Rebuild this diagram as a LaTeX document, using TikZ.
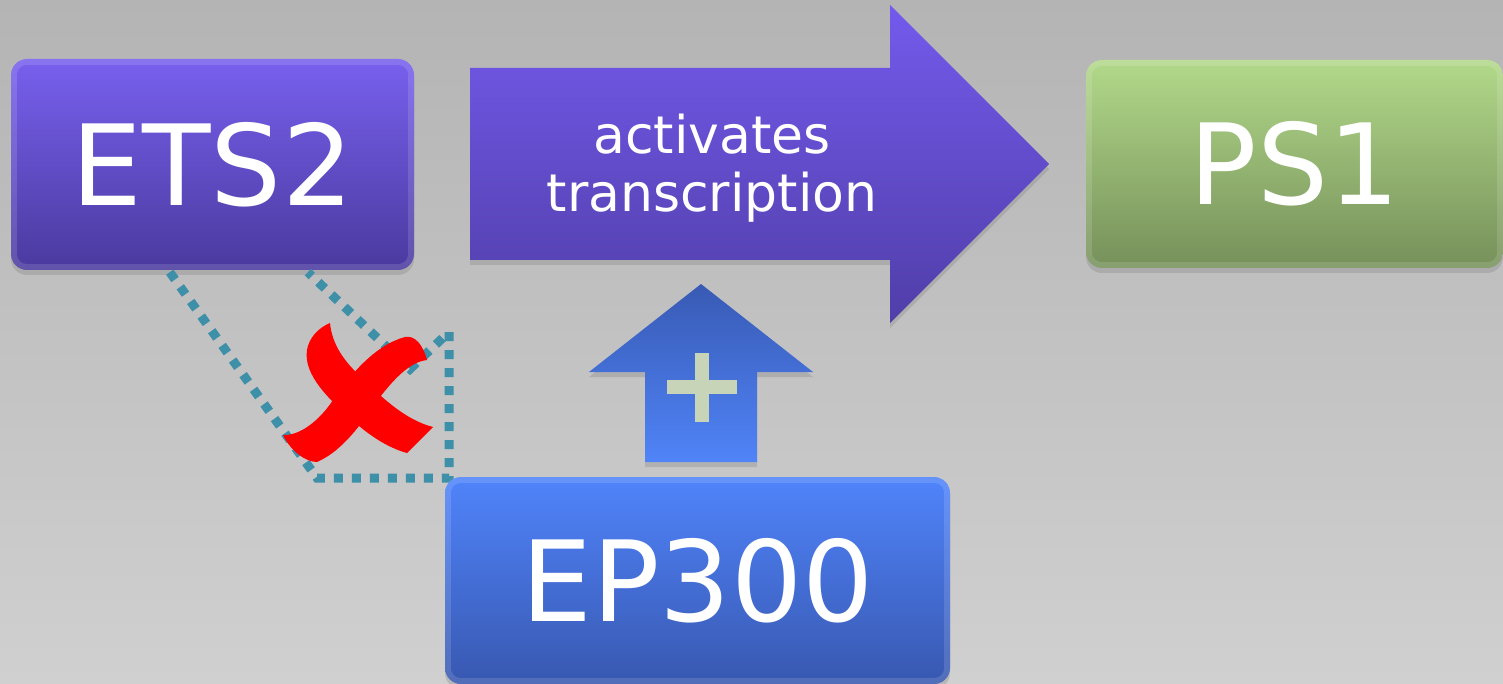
\documentclass[tikz,border=0pt]{standalone}
\usepackage{fontspec}
\setmainfont{DejaVu Sans}
\usetikzlibrary{shadows,calc}
\definecolor{bgtop}{RGB}{180,180,180}
\definecolor{bgbot}{RGB}{208,208,208}
\definecolor{etstop}{RGB}{120,96,238}
\definecolor{etsbot}{RGB}{74,58,158}
\definecolor{arrtop}{RGB}{116,90,236}
\definecolor{arrbot}{RGB}{80,62,168}
\definecolor{pstop}{RGB}{178,217,138}
\definecolor{psbot}{RGB}{118,144,90}
\definecolor{eptop}{RGB}{80,132,251}
\definecolor{epbot}{RGB}{56,88,176}
\definecolor{uptop}{RGB}{56,90,180}
\definecolor{upbot}{RGB}{80,132,248}
\definecolor{plusc}{RGB}{200,212,184}
\definecolor{dotc}{RGB}{62,143,168}
\definecolor{xred}{RGB}{255,0,0}
\tikzset{
  bigbox/.style={rounded corners=16pt, text=white, inner sep=0pt,
    font=\fontsize{112}{130}\selectfont,
    drop shadow={opacity=0.3, shadow xshift=0pt, shadow yshift=-5pt}},
  shapeshadow/.style={drop shadow={opacity=0.3, shadow xshift=0pt, shadow yshift=-5pt}},
  bevel/.style={draw=white, opacity=0.13, line width=6pt, rounded corners=13pt},
  dotline/.style={draw=dotc, line width=9pt, dash pattern=on 9pt off 9pt, line cap=butt},
  midtext/.style={text=white, align=center, font=\fontsize{52}{58}\selectfont}
}
\begin{document}
\begin{tikzpicture}[x=1pt,y=-1pt]
\useasboundingbox (0,0) rectangle (1503,684);
\shade[top color=bgtop, bottom color=bgbot] (0,0) rectangle (1503,684);

% ETS2 and the crossed dotted connector
\node[bigbox, top color=etstop, bottom color=etsbot, minimum width=403pt, minimum height=211pt] (ets2) at (212.5,164.5) {ETS2};
\draw[bevel] ([shift={(3,3)}]ets2.north west) rectangle ([shift={(-3,-3)}]ets2.south east);
\coordinate (d1) at ($(ets2.south west)+(159,2)$);
\coordinate (d2) at ($(ets2.south west)+(297,2)$);
\coordinate (c1) at (317,478);
\coordinate (c2) at (449,478);
\coordinate (c3) at (449,332);
\coordinate (c4) at (410,369);
\draw[dotline] (d1) -- (c1) -- (c2) -- (c3) -- (c4) -- (d2);

% big arrow
\shade[top color=arrtop, bottom color=arrbot, shapeshadow]
  (470,68) -- (890,68) -- (890,5) -- (1049,164) -- (890,323) -- (890,260) -- (470,260) -- cycle;
\node[midtext] (act) at (712,168) {activates\\transcription};

% PS1
\node[bigbox, top color=pstop, bottom color=psbot, minimum width=417pt, minimum height=208pt] (ps1) at (1294.5,164) {PS1};
\draw[bevel] ([shift={(3,3)}]ps1.north west) rectangle ([shift={(-3,-3)}]ps1.south east);

% up arrow with plus
\shade[top color=uptop, bottom color=upbot, shapeshadow]
  (701,284) -- (813,372) -- (757,372) -- (757,462) -- (645,462) -- (645,372) -- (589,372) -- cycle;
\fill[plusc] (667,380) rectangle (737,394);
\fill[plusc] (695,353) rectangle (709,422);

% EP300
\node[bigbox, top color=eptop, bottom color=epbot, minimum width=505pt, minimum height=207pt] (ep300) at (697.5,580.5) {EP300};
\draw[bevel] ([shift={(3,3)}]ep300.north west) rectangle ([shift={(-3,-3)}]ep300.south east);

% red X
\fill[xred] (330,323) .. controls (332,345) and (345,362) .. (360,376)
  .. controls (380,396) and (405,420) .. (433,427) -- (407,453)
  .. controls (385,447) and (365,432) .. (350,418)
  .. controls (330,400) and (303,375) .. (307,350)
  .. controls (309,338) and (318,328) .. (330,323) -- cycle;
\fill[xred] (283,435) .. controls (300,436) and (320,420) .. (333,400)
  .. controls (350,375) and (375,345) .. (405,337)
  .. controls (415,335) and (423,345) .. (427,360)
  .. controls (410,362) and (395,378) .. (380,397)
  .. controls (365,418) and (345,450) .. (317,462)
  .. controls (305,462) and (290,450) .. (283,435) -- cycle;
\end{tikzpicture}
\end{document}
